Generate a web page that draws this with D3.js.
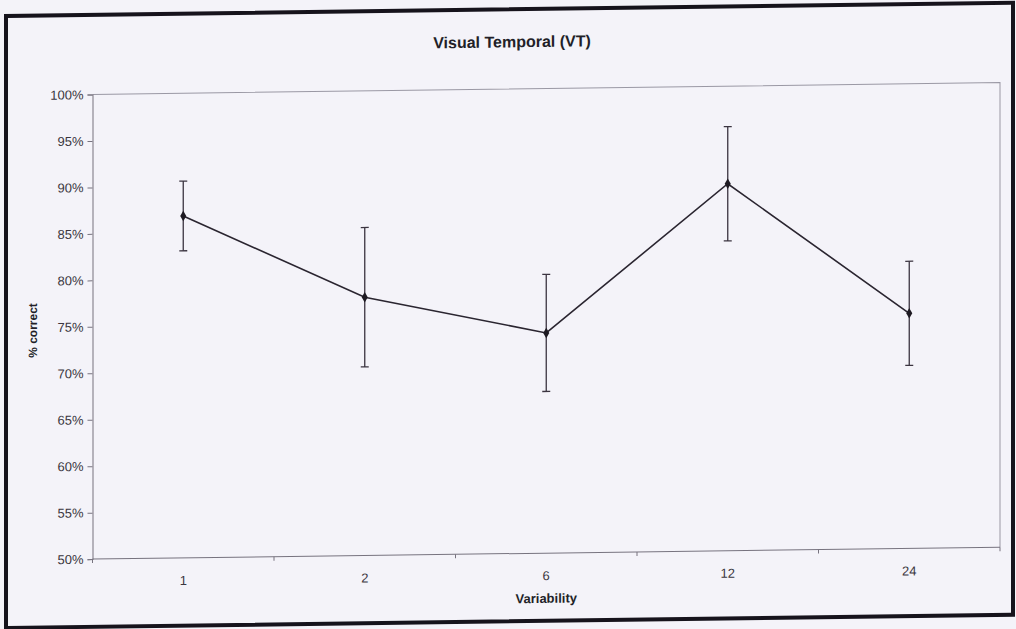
<!DOCTYPE html>
<html>
<head>
<meta charset="utf-8">
<script src="https://cdn.jsdelivr.net/npm/d3@7"></script>
<style>
  html, body { margin: 0; padding: 0; background: #f4f3f9; }
  svg { display: block; }
  text { font-family: "Liberation Sans", Arial, sans-serif; }
</style>
</head>
<body>
<svg id="chart" width="1016" height="629"></svg>
<script>
// Variability conditions on the x axis
const categories = ["1", "2", "6", "12", "24"];
// Mean percent correct per condition
const meanCorrect = [86.8, 77.8, 73.7, 89.5, 75.3];
// Error bar half-length (percentage points)
const errorHalf = [3.75, 7.5, 6.3, 6.15, 5.6];
// Y axis tick values (percent)
const yTicks = [50, 55, 60, 65, 70, 75, 80, 85, 90, 95, 100];

const chartTitle = "Visual Temporal (VT)";
const xTitle = "Variability";
const yTitle = "% correct";

const svg = d3.select("#chart");
svg.append("rect").attr("width", 1016).attr("height", 629).attr("fill", "#f4f3f9");

// the printed page sits slightly askew
const g = svg.append("g").attr("transform", "skewY(-0.75)");

const plot = { left: 92.5, right: 1000, top: 95.7, bottom: 560.3 };

const x = d3.scaleBand().domain(categories).range([plot.left, plot.right]).paddingInner(0).paddingOuter(0);
const y = d3.scaleLinear().domain([50, 100]).range([plot.bottom, plot.top]);

// outer frame
g.append("rect")
  .attr("x", 6).attr("y", 16).attr("width", 1007).attr("height", 612)
  .attr("fill", "none").attr("stroke", "#16131c").attr("stroke-width", 4);

// plot area border (top and right)
g.append("path")
  .attr("d", `M${plot.left},${plot.top}H${plot.right}V${plot.bottom}`)
  .attr("fill", "none").attr("stroke", "#9a98a4").attr("stroke-width", 1);

// y axis
const yAxis = d3.axisLeft(y).tickValues(yTicks).tickSize(5).tickPadding(4)
  .tickFormat(d => d + "%");
const ya = g.append("g").attr("transform", `translate(${plot.left},0)`).call(yAxis);
ya.select(".domain").attr("stroke", "#77737f");
ya.selectAll(".tick line").attr("stroke", "#77737f");
ya.selectAll(".tick text").attr("font-size", 13).attr("fill", "#3a3640")
  .attr("font-family", "Liberation Sans, Arial, sans-serif");

// x axis: ticks between categories, labels centred in each slot
const xa = g.append("g").attr("transform", `translate(0,${plot.bottom})`);
xa.append("line").attr("x1", plot.left).attr("x2", plot.right)
  .attr("stroke", "#77737f");
const bounds = categories.map(c => x(c)).concat([plot.right]);
xa.selectAll("line.tk").data(bounds).join("line").attr("class", "tk")
  .attr("x1", d => d).attr("x2", d => d).attr("y1", 0).attr("y2", 4)
  .attr("stroke", "#77737f");
xa.selectAll("text.lbl").data(categories).join("text").attr("class", "lbl")
  .attr("x", d => x(d) + x.bandwidth() / 2).attr("y", 27)
  .attr("text-anchor", "middle").attr("font-size", 13).attr("fill", "#3a3640")
  .text(d => d);

// titles
g.append("text").attr("x", 512).attr("y", 54).attr("text-anchor", "middle")
  .attr("font-size", 16).attr("font-weight", "bold").attr("fill", "#221f28").text(chartTitle);
g.append("text").attr("x", x("6") + x.bandwidth() / 2).attr("y", 610).attr("text-anchor", "middle")
  .attr("font-size", 13).attr("font-weight", "bold").attr("fill", "#221f28").text(xTitle);
g.append("text").attr("transform", "translate(37,331) rotate(-90)").attr("text-anchor", "middle")
  .attr("font-size", 12).attr("font-weight", "bold").attr("fill", "#221f28").text(yTitle);

const data = categories.map((c, i) => ({ c, m: meanCorrect[i], e: errorHalf[i] }));
const cx = d => x(d.c) + x.bandwidth() / 2;

// error bars
const eb = g.append("g").attr("stroke", "#3b3440").attr("stroke-width", 1.3);
eb.selectAll("line.v").data(data).join("line").attr("class", "v")
  .attr("x1", cx).attr("x2", cx).attr("y1", d => y(d.m + d.e)).attr("y2", d => y(d.m - d.e));
eb.selectAll("line.t").data(data).join("line").attr("class", "t")
  .attr("x1", d => cx(d) - 4).attr("x2", d => cx(d) + 4).attr("y1", d => y(d.m + d.e)).attr("y2", d => y(d.m + d.e));
eb.selectAll("line.b").data(data).join("line").attr("class", "b")
  .attr("x1", d => cx(d) - 4).attr("x2", d => cx(d) + 4).attr("y1", d => y(d.m - d.e)).attr("y2", d => y(d.m - d.e));

// mean line
g.append("path").datum(data)
  .attr("d", d3.line().x(cx).y(d => y(d.m)))
  .attr("fill", "none").attr("stroke", "#2a2530").attr("stroke-width", 1.6);

// markers
g.selectAll("path.mk").data(data).join("path").attr("class", "mk")
  .attr("transform", d => `translate(${cx(d)},${y(d.m)})`)
  .attr("d", d3.symbol().type(d3.symbolDiamond).size(32))
  .attr("fill", "#1e1a22");
</script>
</body>
</html>
